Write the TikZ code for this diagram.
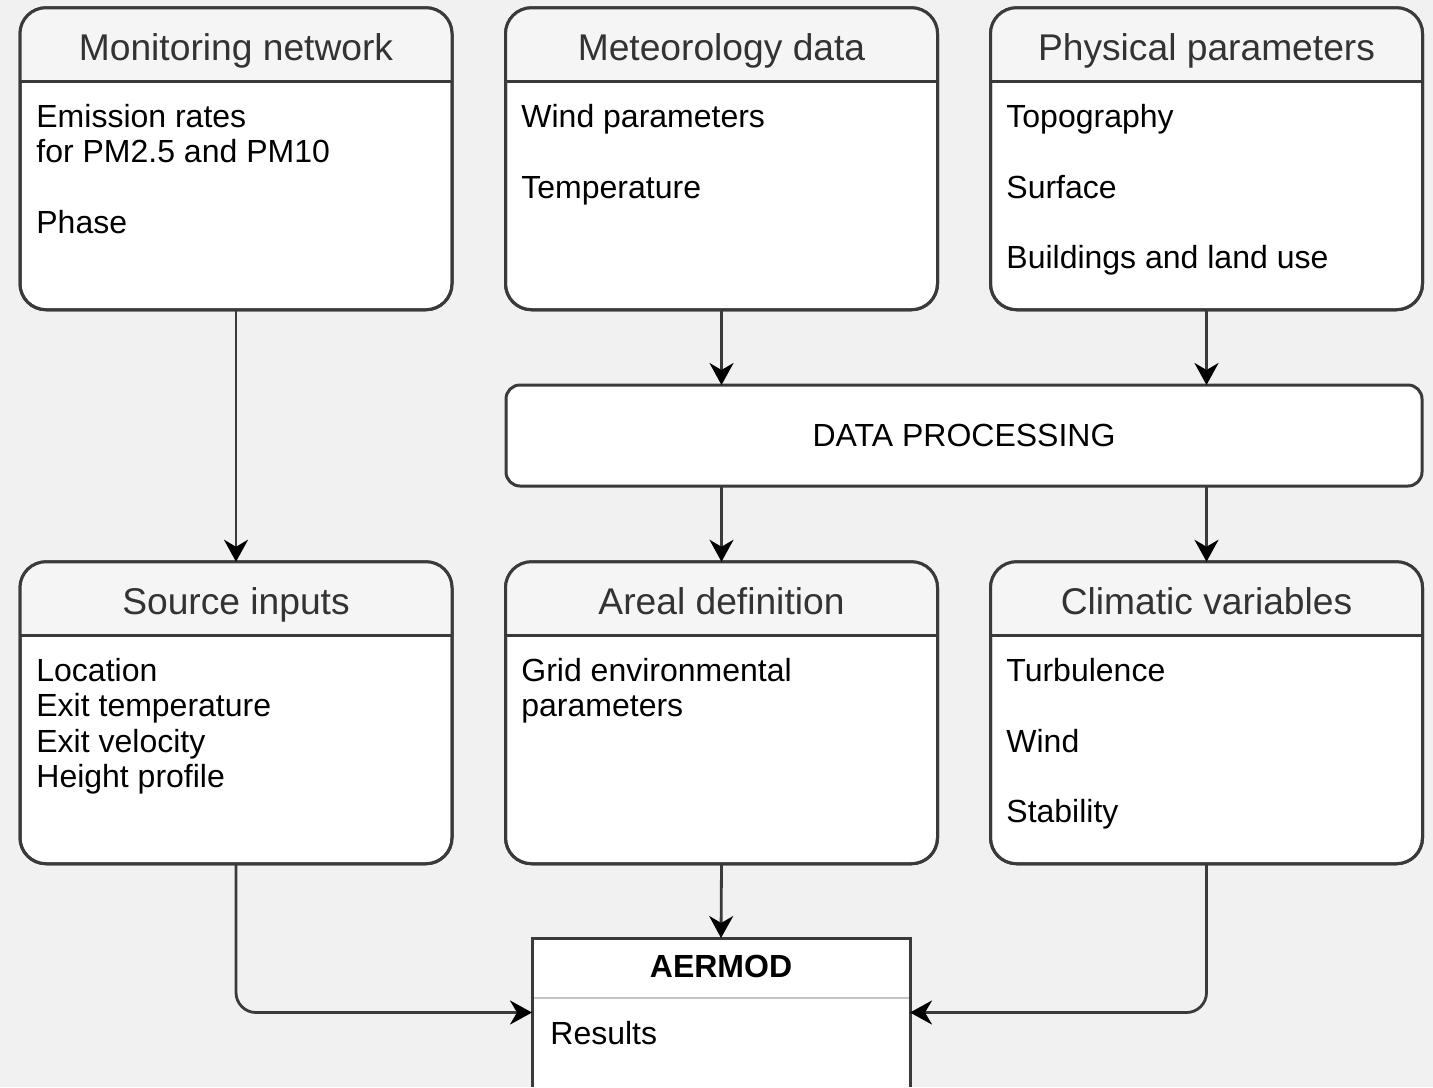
\documentclass[tikz,border=0pt]{standalone}
\usepackage{fontspec}
\setmainfont{Liberation Sans}
\usetikzlibrary{arrows.meta}
\definecolor{bgc}{HTML}{F1F1F1}
\definecolor{hdrc}{HTML}{F5F5F5}
\definecolor{linec}{HTML}{3A3A3A}
\definecolor{txtc}{HTML}{333333}
\definecolor{divc}{HTML}{C4C4C4}
\tikzset{
  lanebox/.style={draw=linec, line width=1.5pt, fill=white, rounded corners=13pt,
    minimum width=216pt, minimum height=151pt, inner sep=0pt, outer sep=0pt},
  procbox/.style={draw=linec, line width=1.5pt, fill=white, rounded corners=7pt,
    minimum width=458pt, minimum height=50.5pt, inner sep=0pt, outer sep=0pt,
    font=\fontsize{16}{19}\selectfont, text=black},
  resbox/.style={fill=white, minimum width=189pt, minimum height=74.5pt, inner sep=0pt, outer sep=0pt},
  hdrtext/.style={font=\fontsize{18.6}{22}\selectfont, text=txtc, inner sep=0pt, anchor=base},
  bodytext/.style={font=\fontsize{16}{19}\selectfont, text=black, inner sep=0pt, anchor=base west},
  conn/.style={draw=linec, line width=1.4pt, -{Stealth[length=11pt,width=12pt,inset=3.5pt,color=black]}},
}
\newcommand{\lane}[4]{%
  \node[lanebox] (#1) at (#2,#3+150.75) {};
  \begin{scope}
    \clip[rounded corners=13pt] (#1.north west) rectangle (#1.south east);
    \fill[hdrc] (#1.north west) rectangle ([yshift=-37pt]#1.north east);
  \end{scope}
  \draw[linec, line width=1.5pt] ([yshift=-37pt]#1.north west) -- ([yshift=-37pt]#1.north east);
  \draw[linec, line width=1.5pt, rounded corners=13pt] (#1.north west) rectangle (#1.south east);
  \node[hdrtext] (#1-t) at ([yshift=-26.25pt]#1.north) {#4};
}
\newcommand{\lanelines}[4]{%
  \foreach \t [count=\i] in {#4} {
    \node[bodytext] (#1-\i) at (#2, #3+35.25*\i-35.25) {\t};
  }
}
\begin{document}
\begin{tikzpicture}[x=0.5pt,y=-0.5pt]
\useasboundingbox (0,0) rectangle (1433,1087);
\fill[bgc] (0,0) rectangle (1433,1087);
\clip (0,0) rectangle (1433,1087);

% top row
\lane{mon}{236}{8}{Monitoring network}
\lanelines{mon}{36}{127.5}{Emission rates,for PM2.5 and PM10,{},Phase}
\lane{met}{721.5}{8}{Meteorology data}
\lanelines{met}{521}{127.5}{Wind parameters,{},Temperature}
\lane{phy}{1206.5}{8}{Physical parameters}
\lanelines{phy}{1006}{127.5}{Topography,{},Surface,{},Buildings and land use}

% processing
\node[procbox] (dp) at (964,435.5) {DATA PROCESSING};

% second row
\lane{src}{236}{562}{Source inputs}
\lanelines{src}{36}{681.5}{Location,Exit temperature,Exit velocity,Height profile}
\lane{are}{721.5}{562}{Areal definition}
\lanelines{are}{521}{681.5}{Grid environmental,parameters}
\lane{cli}{1206.5}{562}{Climatic variables}
\lanelines{cli}{1006}{681.5}{Turbulence,{},Wind,{},Stability}

% AERMOD
\node[resbox] (aer) at (721,1012.5) {};
\draw[divc, line width=0.8pt] (aer.west |- 0,998) -- (aer.east |- 0,998);
\draw[linec, line width=1.5pt] (aer.south west) -- (aer.north west) -- (aer.north east) -- (aer.south east);
\node[font=\fontsize{16}{19}\selectfont\bfseries, text=black, inner sep=0pt, anchor=base] (aer-t) at (721,977.5) {AERMOD};
\node[bodytext] (aer-1) at (550,1044.5) {Results};

% connectors
\draw[conn] (mon.south) -- (src.north);
\draw[conn] (met.south) -- (met.south |- dp.north);
\draw[conn] (phy.south) -- (phy.south |- dp.north);
\draw[conn] (are.north |- dp.south) -- (are.north);
\draw[conn] (cli.north |- dp.south) -- (cli.north);
\draw[conn] (are.south) -- (aer.north);
\draw[conn, rounded corners=10pt] (src.south) |- (aer.west);
\draw[conn, rounded corners=10pt] (cli.south) |- (aer.east);
\end{tikzpicture}
\end{document}
